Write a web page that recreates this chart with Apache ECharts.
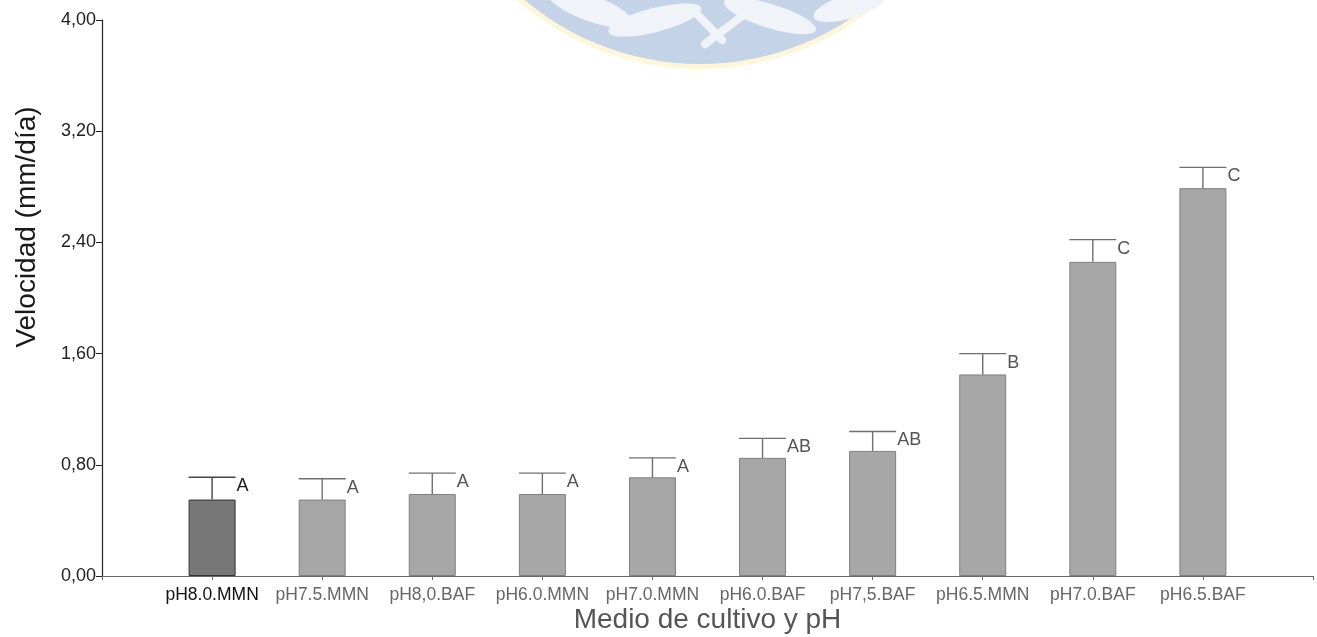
<!DOCTYPE html>
<html>
<head>
<meta charset="utf-8">
<script src="https://cdn.jsdelivr.net/npm/echarts@6/dist/echarts.min.js"></script>
<style>
  html, body { margin: 0; padding: 0; background: #fff; overflow: hidden; }
  #chart { width: 1317px; height: 637px; }
</style>
</head>
<body>
<div id="chart"></div>
<script>
// Growth rate per culture medium and pH, with standard deviation and Tukey groups
const categories = ['pH8.0.MMN', 'pH7.5.MMN', 'pH8,0.BAF', 'pH6.0.MMN', 'pH7.0.MMN',
                    'pH6.0.BAF', 'pH7,5.BAF', 'pH6.5.MMN', 'pH7.0.BAF', 'pH6.5.BAF'];
const means  = [0.55, 0.55, 0.59, 0.59, 0.71, 0.85, 0.90, 1.45, 2.26, 2.79];
const errors = [0.16, 0.15, 0.15, 0.15, 0.14, 0.14, 0.14, 0.15, 0.16, 0.15];
const groups = ['A', 'A', 'A', 'A', 'A', 'AB', 'AB', 'B', 'C', 'C'];
const yTicks = [0, 0.8, 1.6, 2.4, 3.2, 4.0];

const BAR_W = 47;
const FONT = '"Liberation Sans", Arial, sans-serif';

const chart = echarts.init(document.getElementById('chart'), null, { renderer: 'canvas' });

const barData = means.map((v, i) => ({
  value: [i, v],
  itemStyle: i === 0
    ? { color: '#777777', borderColor: '#333333', borderWidth: 1 }
    : { color: '#a7a7a7', borderColor: '#7f7f7f', borderWidth: 1 }
}));

const errData = means.map((v, i) => [i, v, v + errors[i]]);

function renderErr(params, api) {
  const i = api.value(0);
  const base = api.coord([i, api.value(1)]);
  const top = api.coord([i, api.value(2)]);
  const hw = BAR_W / 2;
  const dark = i === 0;
  const lineCol = dark ? '#444444' : '#6f6f6f';
  return {
    type: 'group',
    children: [
      { type: 'line', shape: { x1: base[0], y1: base[1], x2: top[0], y2: top[1] },
        style: { stroke: lineCol, lineWidth: 1.4 } },
      { type: 'line', shape: { x1: top[0] - hw, y1: top[1], x2: top[0] + hw, y2: top[1] },
        style: { stroke: lineCol, lineWidth: 1.4 } },
      { type: 'text', x: top[0] + hw + 1, y: top[1] + 9,
        style: { text: groups[i], fill: dark ? '#1a1a1a' : '#555555',
                 font: '18px ' + FONT, align: 'left', verticalAlign: 'middle' } }
    ]
  };
}

chart.setOption({
  animation: false,
  backgroundColor: '#ffffff',
  grid: { left: 102, right: 4, top: 20, bottom: 61, containLabel: false, outerBoundsMode: 'none' },
  graphic: [
    // faint emblem behind the plot
    { type: 'circle', shape: { cx: 700, cy: -208, r: 277 }, z: -10,
      style: { fill: 'rgba(253,238,180,0.5)' } },
    { type: 'circle', shape: { cx: 700, cy: -208, r: 272 }, z: -9,
      style: { fill: '#c4d3e8' } },
    { type: 'ellipse', shape: { cx: 590, cy: 8, rx: 45, ry: 13 }, rotation: -0.35, originX: 590, originY: 8, z: -8,
      style: { fill: '#f0f4f9' } },
    { type: 'ellipse', shape: { cx: 655, cy: 20, rx: 48, ry: 12 }, rotation: 0.25, originX: 655, originY: 20, z: -8,
      style: { fill: '#f0f4f9' } },
    { type: 'ellipse', shape: { cx: 770, cy: 16, rx: 48, ry: 12 }, rotation: -0.3, originX: 770, originY: 16, z: -8,
      style: { fill: '#f0f4f9' } },
    { type: 'line', shape: { x1: 695, y1: 12, x2: 722, y2: 40 }, z: -8,
      style: { stroke: '#f0f4f9', lineWidth: 8, lineCap: 'round' } },
    { type: 'line', shape: { x1: 745, y1: 14, x2: 705, y2: 44 }, z: -8,
      style: { stroke: '#f0f4f9', lineWidth: 8, lineCap: 'round' } },
    { type: 'ellipse', shape: { cx: 850, cy: 6, rx: 38, ry: 12 }, rotation: 0.3, originX: 850, originY: 6, z: -8,
      style: { fill: '#f0f4f9' } },
    // y axis title
    { type: 'text', x: 27, y: 227, rotation: Math.PI / 2,
      style: { text: 'Velocidad (mm/día)', fill: '#1a1a1a', font: '28px ' + FONT,
               align: 'center', verticalAlign: 'middle' } }
  ],
  xAxis: {
    type: 'value',
    min: -1, max: 10, interval: 1,
    splitLine: { show: false },
    axisLine: { show: true, onZero: false, lineStyle: { color: '#6a6a6a', width: 1.2 } },
    axisTick: { show: true, length: 4, lineStyle: { color: '#6a6a6a' } },
    axisLabel: {
      margin: 10,
      fontSize: 17.5,
      fontFamily: FONT,
      color: (v) => (Math.round(v) === 0 ? '#111111' : '#666666'),
      formatter: (v) => {
        const i = Math.round(v);
        return (i >= 0 && i < categories.length && Math.abs(v - i) < 1e-6) ? categories[i] : '';
      },
      showMinLabel: true, showMaxLabel: true
    },
    name: 'Medio de cultivo y pH',
    nameLocation: 'middle',
    nameGap: 30,
    nameMoveOverlap: false,
    nameTextStyle: { fontSize: 28, color: '#555555', fontFamily: FONT }
  },
  yAxis: {
    type: 'value',
    min: yTicks[0], max: yTicks[yTicks.length - 1], interval: 0.8,
    splitLine: { show: false },
    axisLine: { show: true, onZero: false, lineStyle: { color: '#222222', width: 1.2 } },
    axisTick: { show: true, length: 6, lineStyle: { color: '#222222' } },
    axisLabel: {
      margin: 6,
      fontSize: 18,
      color: '#222222',
      fontFamily: FONT,
      formatter: (v) => v.toFixed(2).replace('.', ',')
    }
  },
  series: [
    {
      type: 'bar',
      data: barData,
      barWidth: BAR_W,
      z: 2
    },
    {
      type: 'custom',
      data: errData,
      renderItem: renderErr,
      encode: { x: 0, y: [1, 2] },
      z: 3
    }
  ]
});
</script>
</body>
</html>
